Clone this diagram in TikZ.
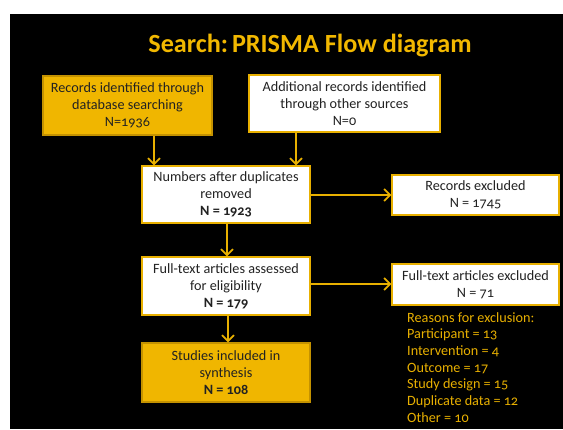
\documentclass[tikz,border=0pt]{standalone}
\usepackage{fontspec}
\setmainfont{Carlito}[Numbers=OldStyle]
\usetikzlibrary{arrows.meta}
\definecolor{gold}{RGB}{240,182,0}
\definecolor{golddark}{RGB}{196,146,0}
\definecolor{titlegold}{RGB}{242,184,0}
\definecolor{linegold}{RGB}{232,176,0}
\definecolor{boxtext}{RGB}{34,34,34}
\tikzset{
  box/.style={draw=linegold, line width=1.4pt, fill=white, text=boxtext, rectangle,
    inner sep=0pt, align=center, font=\fontsize{14.2}{16.8}\selectfont},
  orangebox/.style={box, fill=gold, draw=golddark},
  arr/.style={draw=linegold, line width=2.6pt, -{Straight Barb[length=6pt,width=12pt,line width=1.7pt]}},
}
\begin{document}
\begin{tikzpicture}[x=1pt,y=-1pt]
\useasboundingbox (0,0) rectangle (563,429);
\fill[white] (0,0) rectangle (563,429);
\fill[black] (10,14) rectangle (563,429);
\node[text=titlegold, font=\fontsize{26.2}{30}\selectfont\bfseries] (title) at (310,46) {Search:\kern-2pt\ PRISMA Flow diagram};
\node[orangebox, minimum width=169pt, minimum height=59pt] (b1) at (127.5,105.5) {Records identified through\\database searching\\N=1936};
\node[box, minimum width=191pt, minimum height=57pt] (b2) at (344.5,103.5) {Additional records identified\\through other sources\\N=0};
\node[box, minimum width=168pt, minimum height=57pt] (b3) at (226,194.5) {Numbers after duplicates\\removed\\\textbf{N = 1923}};
\node[box, minimum width=168pt, minimum height=58pt] (b4) at (226,286) {Full-text articles assessed\\for eligibility\\\textbf{N = 179}};
\node[orangebox, minimum width=168pt, minimum height=59pt] (b5) at (226,372.5) {Studies included in\\synthesis\\\textbf{N = 108}};
\node[box, minimum width=167pt, minimum height=40pt] (e1) at (475.5,195) {Records excluded\\N = 1745};
\node[box, minimum width=167pt, minimum height=41pt] (e2) at (475.5,284.5) {Full-text articles excluded\\N = 71};
\node[anchor=north west, inner sep=0pt, text=linegold, align=left, font=\fontsize{14.2}{16.7}\selectfont] (reasons) at (407,312) {Reasons for exclusion:\\Participant = 13\\Intervention = 4\\Outcome = 17\\Study design = 15\\Duplicate data = 12\\Other = 10};
\coordinate (xa) at (154,0);
\coordinate (xb) at (296,0);
\coordinate (xc) at (227,0);
\coordinate (xd) at (228,0);
\coordinate (ya) at (0,195);
\coordinate (yb) at (0,284);
\draw[arr] (b1.south -| xa) -- (b3.north -| xa);
\draw[arr] (b2.south -| xb) -- (b3.north -| xb);
\draw[arr] (b3.south -| xc) -- (b4.north -| xc);
\draw[arr] (b4.south -| xd) -- (b5.north -| xd);
\draw[arr] (b3.east |- ya) -- (e1.west |- ya);
\draw[arr] (b4.east |- yb) -- (e2.west |- yb);
\end{tikzpicture}
\end{document}
